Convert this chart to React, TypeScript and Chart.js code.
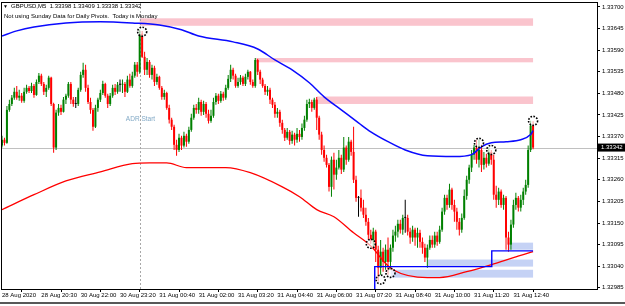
import React, { useEffect, useRef } from 'react';
import { Chart, registerables } from 'chart.js';

Chart.register(...registerables);

const symbol = 'GBPUSD,M5';
const infoLine = 'Not using Sunday Data for Daily Pivots.  Today is Monday';
const adrLabel = 'ADR Start';

const firstOpen = 1.33347;
const closes = [
  1.33362, 1.33354, 1.33438, 1.33453, 1.33469, 1.33484, 1.33469, 1.33474, 1.33461, 1.33484,
  1.33494, 1.33486, 1.33499, 1.33476, 1.33509, 1.33525, 1.33504, 1.33484, 1.33494, 1.3352,
  1.33453, 1.33342, 1.33431, 1.33443, 1.33433, 1.33464, 1.33474, 1.33504, 1.33464, 1.33453,
  1.33453, 1.33489, 1.33527, 1.3354, 1.33494, 1.33458, 1.33438, 1.33395, 1.33443, 1.33464,
  1.33481, 1.33504, 1.33474, 1.33453, 1.33474, 1.33494, 1.33484, 1.33502, 1.33502, 1.33504,
  1.33484, 1.33515, 1.33499, 1.33525, 1.33553, 1.33535, 1.33632, 1.33573, 1.3354, 1.3356,
  1.33527, 1.33545, 1.33509, 1.33522, 1.33494, 1.33471, 1.33481, 1.33443, 1.33413, 1.33395,
  1.33349, 1.33336, 1.33367, 1.33347, 1.33372, 1.33357, 1.33387, 1.33418, 1.33443, 1.33438,
  1.33458, 1.33433, 1.33453, 1.33428, 1.3341, 1.33423, 1.33458, 1.33474, 1.33461, 1.33479,
  1.33469, 1.33494, 1.33517, 1.3354, 1.33525, 1.33499, 1.33509, 1.3352, 1.33504, 1.33522,
  1.33535, 1.33509, 1.33499, 1.33565, 1.33535, 1.33515, 1.33499, 1.33484, 1.33489, 1.33464,
  1.33451, 1.33428, 1.33433, 1.33405, 1.33387, 1.33367, 1.33382, 1.33359, 1.33375, 1.33362,
  1.33377, 1.33369, 1.33392, 1.33413, 1.33453, 1.33458, 1.33443, 1.33464, 1.33418, 1.33375,
  1.33336, 1.33316, 1.33298, 1.33242, 1.33311, 1.33273, 1.33291, 1.33316, 1.33286, 1.33342,
  1.33311, 1.33357, 1.33331, 1.3326, 1.33214, 1.33214, 1.33189, 1.33171, 1.33153, 1.3312,
  1.33107, 1.33128, 1.33082, 1.33036, 1.33077, 1.33051, 1.33082, 1.33051, 1.33087, 1.33118,
  1.33128, 1.33148, 1.33133, 1.33163, 1.33163, 1.33128, 1.33113, 1.33133, 1.33113, 1.33125,
  1.33102, 1.33087, 1.33062, 1.33087, 1.33107, 1.33095, 1.33118, 1.33102, 1.33133, 1.33179,
  1.33214, 1.33196, 1.33235, 1.33196, 1.33179, 1.33153, 1.33133, 1.33163, 1.33219, 1.3326,
  1.33291, 1.33324, 1.33342, 1.33311, 1.33336, 1.33298, 1.33316, 1.33301, 1.33331, 1.33311,
  1.33222, 1.33209, 1.3323, 1.33196, 1.33214, 1.33113, 1.33095, 1.33146, 1.33196, 1.33214,
  1.33189, 1.33209, 1.3323, 1.33247, 1.33336, 1.33398, 1.33342,
];
const highs = [
  1.33372, 1.33367, 1.33448, 1.33464, 1.33476, 1.33494, 1.33499, 1.33489, 1.33481, 1.33494,
  1.33502, 1.33499, 1.33507, 1.33504, 1.33515, 1.33532, 1.3353, 1.33509, 1.33502, 1.33525,
  1.33522, 1.33456, 1.33438, 1.33453, 1.33451, 1.33471, 1.33479, 1.33509, 1.33509, 1.33471,
  1.33471, 1.33494, 1.33535, 1.33558, 1.33553, 1.33502, 1.33469, 1.33443, 1.33451, 1.33469,
  1.33489, 1.33512, 1.33507, 1.33479, 1.33481, 1.33502, 1.33504, 1.33509, 1.33515, 1.33515,
  1.33509, 1.33525, 1.3353, 1.33535, 1.3356, 1.3356, 1.33642, 1.33639, 1.33586, 1.3357,
  1.33565, 1.33553, 1.3355, 1.3353, 1.33525, 1.33499, 1.33489, 1.33484, 1.33451, 1.33418,
  1.334, 1.33362, 1.33377, 1.33372, 1.33382, 1.33377, 1.33395, 1.33428, 1.33451, 1.33453,
  1.33469, 1.33464, 1.33461, 1.33458, 1.33438, 1.33438, 1.33469, 1.33481, 1.33479, 1.33486,
  1.33484, 1.33502, 1.33527, 1.33553, 1.33545, 1.3353, 1.3352, 1.33527, 1.33525, 1.3353,
  1.3354, 1.33537, 1.33515, 1.3357, 1.33568, 1.3354, 1.3352, 1.33504, 1.33499, 1.33494,
  1.33469, 1.33458, 1.33443, 1.33438, 1.33413, 1.33392, 1.33392, 1.33387, 1.33385, 1.3338,
  1.33392, 1.33387, 1.33403, 1.33423, 1.33464, 1.33466, 1.33464, 1.33469, 1.33471, 1.33423,
  1.33382, 1.33347, 1.33324, 1.33303, 1.33319, 1.33329, 1.33311, 1.33336, 1.33324, 1.33369,
  1.33347, 1.33369, 1.33362, 1.33395, 1.3327, 1.33219, 1.33235, 1.33209, 1.33189, 1.33163,
  1.33133, 1.33138, 1.33133, 1.33092, 1.33107, 1.33087, 1.33095, 1.33113, 1.33095, 1.33133,
  1.33143, 1.33158, 1.33158, 1.33171, 1.33209, 1.33171, 1.33138, 1.33143, 1.33138, 1.33138,
  1.33133, 1.33113, 1.33097, 1.33095, 1.33118, 1.33118, 1.33128, 1.33128, 1.33143, 1.33189,
  1.33222, 1.33222, 1.3325, 1.3324, 1.33209, 1.33189, 1.33163, 1.33174, 1.33235, 1.3327,
  1.33298, 1.33336, 1.33349, 1.33362, 1.33362, 1.33349, 1.33331, 1.33326, 1.33342, 1.33336,
  1.33324, 1.33245, 1.3324, 1.33235, 1.33222, 1.33219, 1.33128, 1.33158, 1.33209, 1.33227,
  1.33219, 1.33222, 1.3324, 1.3326, 1.33347, 1.3341, 1.33409,
];
const lows = [
  1.33342, 1.33347, 1.33352, 1.33433, 1.33448, 1.33464, 1.33464, 1.33461, 1.33456, 1.33456,
  1.33479, 1.33481, 1.33481, 1.33469, 1.33474, 1.33504, 1.33499, 1.33476, 1.33471, 1.33489,
  1.33448, 1.33329, 1.33336, 1.33423, 1.33425, 1.33431, 1.33453, 1.33469, 1.33453, 1.33446,
  1.33443, 1.33448, 1.33484, 1.3352, 1.33484, 1.33453, 1.33428, 1.33385, 1.33392, 1.33433,
  1.33458, 1.33476, 1.33469, 1.33443, 1.33448, 1.33469, 1.33476, 1.33479, 1.33484, 1.33481,
  1.33471, 1.33481, 1.33494, 1.33494, 1.3352, 1.33522, 1.3353, 1.3357, 1.33527, 1.33527,
  1.3352, 1.33515, 1.33499, 1.33502, 1.33489, 1.33464, 1.33464, 1.33438, 1.33403, 1.33387,
  1.33336, 1.33321, 1.33331, 1.33336, 1.33342, 1.33344, 1.33352, 1.33382, 1.33413, 1.33428,
  1.33428, 1.33423, 1.33425, 1.33418, 1.33403, 1.33405, 1.33418, 1.33451, 1.33453, 1.33456,
  1.33461, 1.33464, 1.33489, 1.33509, 1.33515, 1.33494, 1.33494, 1.33502, 1.33499, 1.33499,
  1.33515, 1.33502, 1.33494, 1.33494, 1.33527, 1.33504, 1.33494, 1.33476, 1.33474, 1.33453,
  1.33443, 1.33418, 1.33418, 1.33395, 1.33377, 1.33359, 1.33362, 1.33349, 1.33352, 1.33347,
  1.33354, 1.33357, 1.33362, 1.33385, 1.33408, 1.33443, 1.33433, 1.33438, 1.33387, 1.33362,
  1.33324, 1.33306, 1.33291, 1.3323, 1.33217, 1.33235, 1.3326, 1.33286, 1.33275, 1.3328,
  1.33298, 1.33306, 1.33321, 1.33252, 1.33204, 1.33166, 1.33179, 1.33163, 1.33143, 1.33107,
  1.33097, 1.33087, 1.33051, 1.33001, 1.33018, 1.33026, 1.33031, 1.33018, 1.33031, 1.33077,
  1.33102, 1.33113, 1.33123, 1.3312, 1.33125, 1.33118, 1.33097, 1.33102, 1.33092, 1.33087,
  1.33087, 1.33072, 1.33051, 1.33036, 1.33082, 1.33087, 1.33087, 1.33092, 1.33097, 1.33128,
  1.33171, 1.33184, 1.33189, 1.33184, 1.33153, 1.33133, 1.33118, 1.33125, 1.33158, 1.33209,
  1.3325, 1.3328, 1.33311, 1.33301, 1.33291, 1.3328, 1.33286, 1.33291, 1.33296, 1.33298,
  1.33209, 1.33189, 1.33196, 1.33189, 1.33184, 1.33082, 1.33077, 1.33082, 1.33138, 1.33184,
  1.33179, 1.33179, 1.33196, 1.33222, 1.3324, 1.33331, 1.33338,
];

const xTickBars = [0, 16, 32, 48, 64, 80, 96, 112, 128, 144, 160, 176, 192, 208];
const xTickLabels = [
  '28 Aug 2020', '28 Aug 20:30', '30 Aug 22:00', '30 Aug 23:20', '31 Aug 00:40', '31 Aug 02:00', '31 Aug 03:20',
  '31 Aug 04:40', '31 Aug 06:00', '31 Aug 07:20', '31 Aug 08:40', '31 Aug 10:00', '31 Aug 11:20', '31 Aug 12:40',
];
const yTicks = [
  1.32985, 1.3304, 1.33095, 1.3315, 1.33205, 1.3326, 1.33315, 1.3337, 1.33425, 1.3348, 1.33535, 1.3359, 1.33645, 1.337,
];

const blueMaBars = [0, 6, 13, 26, 40, 53, 64, 73, 80, 94, 104, 111, 118, 125, 131, 138, 145, 150, 157, 164, 173, 184, 191, 195, 199, 205, 211, 215, 216];
const blueMaValues = [
  1.33626, 1.33639, 1.33649, 1.33659, 1.33662, 1.33659, 1.33654, 1.33642, 1.33626, 1.33611, 1.33593, 1.33565, 1.3354, 1.33507,
  1.33471, 1.33438, 1.33405, 1.33382, 1.33357, 1.33336, 1.33321, 1.33319, 1.33324, 1.33344, 1.33354, 1.33357, 1.33362, 1.33375, 1.33385,
];
const redMaBars = [0, 13, 26, 40, 53, 60, 67, 75, 91, 101, 114, 121, 128, 135, 143, 148, 151, 155, 159, 173, 178, 189, 200, 208, 216];
const redMaValues = [
  1.33184, 1.33222, 1.33257, 1.3328, 1.33301, 1.33303, 1.33303, 1.33291, 1.33291, 1.33278, 1.33242, 1.33217, 1.33184,
  1.33166, 1.33125, 1.33102, 1.33085, 1.33054, 1.33031, 1.33011, 1.33011, 1.33026, 1.33046, 1.33062, 1.33077,
];
const lowLineBars = [151.6, 151.6, 199.2, 199.2, 216];
const lowLineValues = [1.32975, 1.33039, 1.33039, 1.33079, 1.33079];

const resistStart = [56, 103, 128];
const resistTop = [1.33671, 1.3357, 1.33472];
const resistBottom = [1.33652, 1.33559, 1.33453];
const supportStart = [205.7, 173.2, 158.1];
const supportTop = [1.331, 1.33057, 1.33031];
const supportBottom = [1.33082, 1.33039, 1.33011];
const zoneEnd = 216;

const fractalBars = [57, 150, 154, 158, 194, 199, 216];
const fractalValues = [1.33637, 1.33097, 1.33006, 1.33023, 1.33354, 1.33336, 1.3341];

const adrStartBar = 56;
const adrLabelValue = 1.33415;

const FONT = '"Liberation Sans", Arial, sans-serif';
const UP = '#008000';
const DOWN = '#ff0000';
const DOJI = '#000000';

export default function App() {
  const ref = useRef<HTMLCanvasElement>(null);

  useEffect(() => {
    const canvas = ref.current;
    if (!canvas) return;
    const opens = closes.map((_, i) => (i === 0 ? firstOpen : closes[i - 1]));
    const colors = closes.map((c, i) => (c > opens[i] ? UP : c < opens[i] ? DOWN : DOJI));
    const last = closes.length - 1;
    const lastClose = closes[last];
    const fmt = (v: number) => v.toFixed(5);

    const overlay = {
      id: 'mtOverlay',
      beforeDatasetsDraw(chart: any) {
        const { ctx, chartArea: a, scales } = chart;
        const x = scales.x;
        const y = scales.y;
        ctx.save();
        ctx.beginPath();
        ctx.rect(a.left, a.top, a.right - a.left, a.bottom - a.top);
        ctx.clip();
        ctx.fillStyle = '#fac4cd';
        resistStart.forEach((s, i) => {
          const x0 = x.getPixelForValue(s);
          const x1 = x.getPixelForValue(zoneEnd);
          const y0 = y.getPixelForValue(resistTop[i]);
          const y1 = y.getPixelForValue(resistBottom[i]);
          ctx.fillRect(x0, y0, x1 - x0, y1 - y0);
        });
        ctx.fillStyle = '#c5d2f5';
        supportStart.forEach((s, i) => {
          const x0 = x.getPixelForValue(s);
          const x1 = x.getPixelForValue(zoneEnd);
          const y0 = y.getPixelForValue(supportTop[i]);
          const y1 = y.getPixelForValue(supportBottom[i]);
          ctx.fillRect(x0, y0, x1 - x0, y1 - y0);
        });
        const py = Math.round(y.getPixelForValue(lastClose)) + 0.5;
        ctx.strokeStyle = '#c0c0c0';
        ctx.lineWidth = 1;
        ctx.beginPath();
        ctx.moveTo(a.left, py);
        ctx.lineTo(a.right, py);
        ctx.stroke();
        const ax = Math.round(x.getPixelForValue(adrStartBar)) + 0.5;
        ctx.strokeStyle = '#a8a8a8';
        ctx.setLineDash([2, 2]);
        ctx.beginPath();
        ctx.moveTo(ax, a.top);
        ctx.lineTo(ax, a.bottom);
        ctx.stroke();
        ctx.setLineDash([]);
        ctx.fillStyle = '#82a9c6';
        ctx.font = `6.5px ${FONT}`;
        ctx.textAlign = 'center';
        ctx.textBaseline = 'middle';
        ctx.fillText(adrLabel, ax, y.getPixelForValue(adrLabelValue));
        ctx.restore();
      },
      afterDatasetsDraw(chart: any) {
        const { ctx, scales } = chart;
        const x = scales.x;
        const y = scales.y;
        ctx.save();
        fractalBars.forEach((b, i) => {
          const cx = x.getPixelForValue(b);
          const cy = y.getPixelForValue(fractalValues[i]);
          ctx.beginPath();
          ctx.arc(cx, cy, 4.5, 0, Math.PI * 2);
          ctx.fillStyle = 'rgba(255,255,255,0.6)';
          ctx.fill();
          ctx.setLineDash([1.6, 1.4]);
          ctx.lineWidth = 1.6;
          ctx.strokeStyle = '#000';
          ctx.stroke();
        });
        ctx.restore();
      },
      afterDraw(chart: any) {
        const { ctx, chartArea: a, scales } = chart;
        const y = scales.y;
        ctx.save();
        ctx.strokeStyle = '#000';
        ctx.lineWidth = 1;
        ctx.strokeRect(a.left - 0.5, a.top - 0.5, a.right - a.left + 1, a.bottom - a.top + 1);
        ctx.fillStyle = '#000';
        ctx.textAlign = 'left';
        ctx.textBaseline = 'middle';
        ctx.font = `5px ${FONT}`;
        ctx.fillText('▼', 3, 6.5);
        ctx.font = `6px ${FONT}`;
        ctx.fillText(
          `${symbol}  ${fmt(opens[last])} ${fmt(highs[last])} ${fmt(lows[last])} ${fmt(lastClose)}`,
          11,
          6.5,
        );
        ctx.fillText(infoLine, 4, 16);
        const py = y.getPixelForValue(lastClose);
        ctx.fillStyle = '#000';
        ctx.fillRect(a.right + 1, py - 4, 30, 8);
        ctx.fillStyle = '#fff';
        ctx.fillText(fmt(lastClose), a.right + 4, py);
        ctx.strokeStyle = '#202020';
        ctx.lineWidth = 1.5;
        ctx.beginPath();
        ctx.moveTo(0, 303);
        ctx.lineTo(625, 303);
        ctx.stroke();
        ctx.restore();
      },
    };

    const chart = new Chart(canvas, {
      type: 'bar',
      data: {
        datasets: [
          {
            type: 'line',
            data: lowLineBars.map((b, i) => ({ x: b, y: lowLineValues[i] })),
            borderColor: '#0000ff',
            borderWidth: 1.4,
            pointRadius: 0,
            tension: 0,
            order: 0,
          } as any,
          {
            type: 'line',
            data: blueMaBars.map((b, i) => ({ x: b, y: blueMaValues[i] })),
            borderColor: '#0a0aff',
            borderWidth: 1.5,
            pointRadius: 0,
            cubicInterpolationMode: 'monotone',
            order: 1,
          } as any,
          {
            type: 'line',
            data: redMaBars.map((b, i) => ({ x: b, y: redMaValues[i] })),
            borderColor: '#ff0000',
            borderWidth: 1.3,
            pointRadius: 0,
            cubicInterpolationMode: 'monotone',
            order: 2,
          } as any,
          {
            type: 'bar',
            data: closes.map((_, i) => ({ x: i, y: [opens[i], closes[i]] })),
            backgroundColor: colors,
            grouped: false,
            categoryPercentage: 1,
            barPercentage: 1,
            maxBarThickness: 2,
            minBarLength: 1,
            borderWidth: 0,
            inflateAmount: 0,
            order: 3,
          } as any,
          {
            type: 'bar',
            data: closes.map((_, i) => ({ x: i, y: [lows[i], highs[i]] })),
            backgroundColor: colors,
            grouped: false,
            categoryPercentage: 1,
            barPercentage: 1,
            maxBarThickness: 1,
            borderWidth: 0,
            inflateAmount: 0,
            order: 4,
          } as any,
        ],
      },
      options: {
        responsive: false,
        animation: false,
        events: [],
        layout: { padding: { left: 2, top: 3, right: 0, bottom: 3 } },
        plugins: { legend: { display: false }, tooltip: { enabled: false }, title: { display: false } },
        scales: {
          x: {
            type: 'linear',
            min: 0,
            max: 242,
            offset: false,
            afterBuildTicks: (s: any) => {
              s.ticks = xTickBars.map((v) => ({ value: v }));
            },
            afterFit: (s: any) => {
              s.height = 14;
              s.paddingLeft = 0;
              s.paddingRight = 0;
            },
            ticks: {
              autoSkip: false,
              maxRotation: 0,
              minRotation: 0,
              align: 'start',
              padding: 0,
              color: '#000',
              font: { family: FONT, size: 6, lineHeight: 1.2 },
              callback: (v: any) => xTickLabels[xTickBars.indexOf(Number(v))] ?? '',
            },
            grid: { drawOnChartArea: false, drawTicks: true, tickLength: 3, tickColor: '#000' },
            border: { display: false },
          },
          y: {
            type: 'linear',
            position: 'right',
            min: 1.32982,
            max: 1.3371,
            afterBuildTicks: (s: any) => {
              s.ticks = yTicks.map((v) => ({ value: v }));
            },
            afterFit: (s: any) => {
              s.width = 28;
              s.paddingTop = 0;
              s.paddingBottom = 0;
            },
            ticks: {
              autoSkip: false,
              padding: 2,
              color: '#000',
              font: { family: FONT, size: 6, lineHeight: 1 },
              callback: (v: any) => Number(v).toFixed(5),
            },
            grid: { drawOnChartArea: false, drawTicks: true, tickLength: 3, tickColor: '#000' },
            border: { display: false },
          },
        },
      } as any,
      plugins: [overlay],
    });
    return () => chart.destroy();
  }, []);

  return (
    <div style={{ position: 'fixed', left: 0, top: 0, width: 625, height: 306, background: '#fff' }}>
      <canvas ref={ref} width={625} height={306} style={{ display: 'block' }} />
    </div>
  );
}
